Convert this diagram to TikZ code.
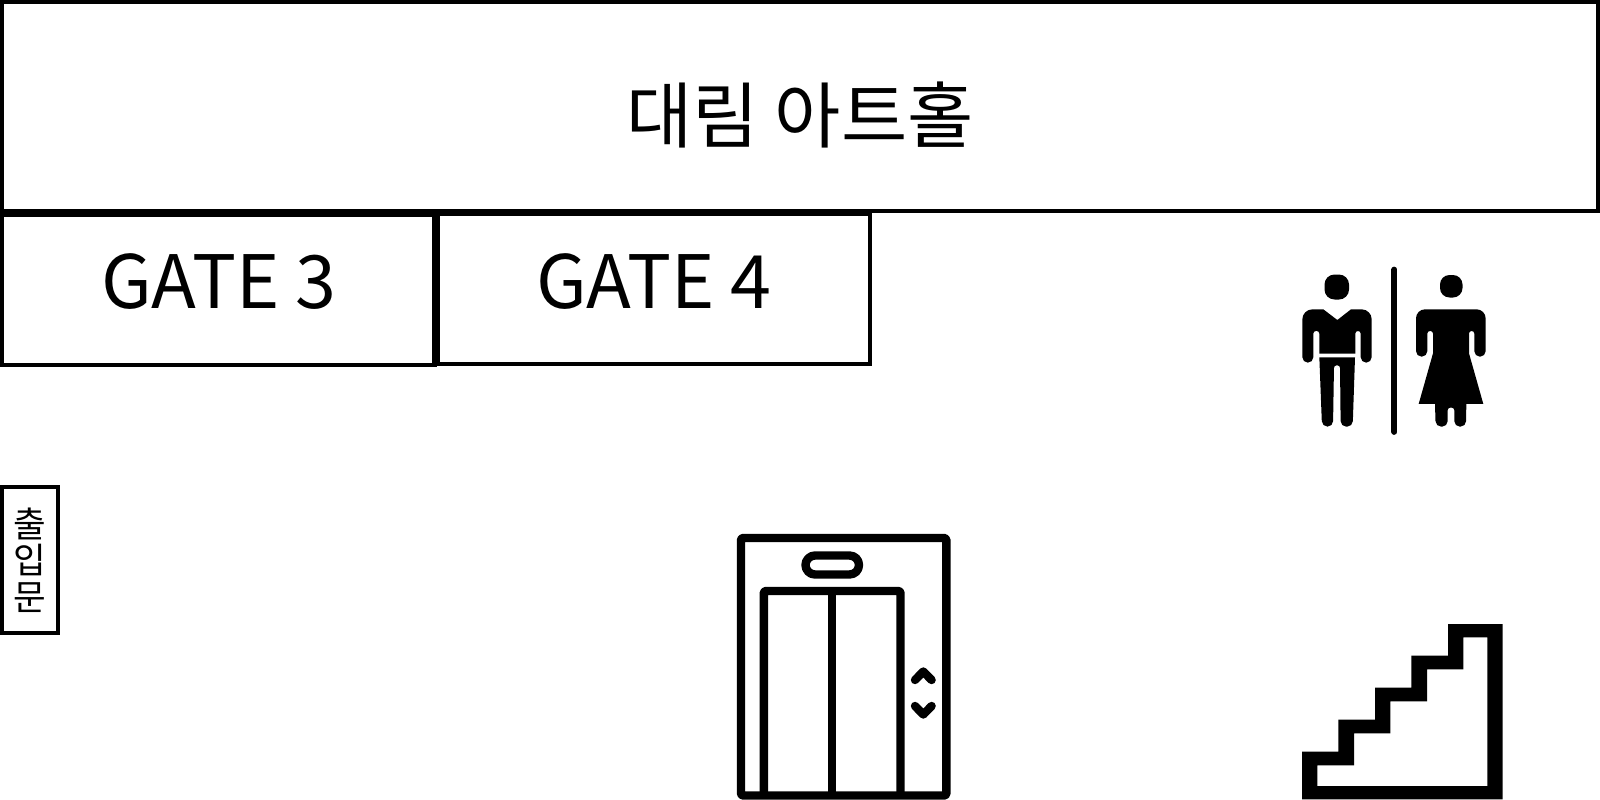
\documentclass[tikz,border=0pt]{standalone}
\usepackage{fontspec}
\setmainfont{Noto Sans CJK KR}
\tikzset{
  box/.style={draw=black,fill=white,line join=miter},
  label72/.style={inner sep=0pt,font=\fontsize{72pt}{80pt}\selectfont,text=black},
  labelgate/.style={inner sep=0pt,font=\fontsize{73.6pt}{80pt}\selectfont,text=black},
  iconline/.style={draw=black,line width=8.4pt,line join=round},
  chevron/.style={draw=black,line width=8.4pt,line cap=round,line join=round},
}
\begin{document}
\begin{tikzpicture}[x=1pt,y=-1pt]
\useasboundingbox (0,0) rectangle (1600,800);
\fill[white] (0,0) rectangle (1600,800);
% hall
\draw[box,line width=4pt] (2,2) rectangle (1598,210.7);
\node[label72] (hall) at (800,115) {대림 아트홀};
% gates
\draw[box,line width=4pt] (436,213.5) rectangle (870,364);
\draw[box,line width=4pt] (1.5,214.7) rectangle (434.5,365);
\fill (431.5,209) rectangle (439.5,365.5);
\node[labelgate] (gatethree) at (219,281.5) {GATE 3};
\node[labelgate] (gatefour) at (654,281.5) {GATE 4};
% door label
\draw[box,line width=4pt] (2,487) rectangle (58,633);
\node[inner sep=0pt,align=center,font=\fontsize{35.5pt}{36.7pt}\selectfont] (door) at (29.5,560) {출\\입\\문};
% elevator
\draw[iconline,rounded corners=1.5pt] (741,538) rectangle (946.3,795.5);
\draw[iconline,rounded corners=1.5pt] (763.8,795.5) -- (763.8,591) -- (900.5,591) -- (900.5,795.5);
\draw[iconline] (832.2,591) -- (832.2,795.5);
\draw[iconline,rounded corners=9.5pt] (805.5,555.5) rectangle (859,574.5);
\draw[chevron] (915,680) -- (923.3,671.5) -- (931.6,680);
\draw[chevron] (915,706) -- (923.3,714.5) -- (931.6,706);
% stairs
\fill[even odd rule] (1302,751.7) -- (1338.3,751.7) -- (1338.3,719.7) -- (1375,719.7) -- (1375,687.7) -- (1411.3,687.7) -- (1411.3,655.7) -- (1448,655.7) -- (1448,624) -- (1502.7,624) -- (1502.7,799.3) -- (1302,799.3) -- cycle
 (1317.3,765.3) -- (1354,765.3) -- (1354,733.3) -- (1390.3,733.3) -- (1390.3,701.3) -- (1427,701.3) -- (1427,669.3) -- (1463.3,669.3) -- (1463.3,637.3) -- (1487.3,637.3) -- (1487.3,786) -- (1317.3,786) -- cycle;
% restroom sign
\draw[line width=5.7pt,line cap=round] (1394.3,269.5) -- (1394.3,432);
\fill[rounded corners=10pt] (1324.5,274.5) rectangle (1349,299.5);
\fill[rounded corners=9.5pt] (1440,275) rectangle (1462.5,297.5);
\begin{scope}[shift={(1280,260)},x=0.3333pt,y=-0.3333pt]
 \fill (130,148) -- (172,180) -- (213,148) [rounded corners=10pt] -- (275,148) [rounded corners=5.5pt] -- (275,308) -- (242,308) [rounded corners=2.6pt] -- (242,213) -- (226,213) [sharp corners] -- (226,281) -- (118,281) [rounded corners=2.6pt] -- (118,213) -- (100,213) [rounded corners=5.5pt] -- (100,308) -- (67,308) [rounded corners=10pt] -- (67,148) [sharp corners] -- cycle;
 \fill (118,292) -- (225,292) [rounded corners=5.5pt] -- (218,500) -- (182,500) [rounded corners=2.6pt] -- (180,316) -- (162,316) [rounded corners=5.5pt] -- (159,500) -- (126,500) [sharp corners] -- cycle;
 \fill (445,148) [rounded corners=9pt] -- (617,148) [rounded corners=5.5pt] -- (617,290) -- (583,290) [rounded corners=2.6pt] -- (583,213) -- (567,213) [sharp corners] -- (567,280) -- (610,432) -- (559,432) [rounded corners=5.5pt] -- (558,500) -- (523,500) [rounded corners=2.6pt] -- (523,443) -- (503,443) [rounded corners=5.5pt] -- (503,500) -- (467,500) [sharp corners] -- (465,432) -- (416,432) -- (459,280) [rounded corners=2.6pt] -- (459,213) -- (442,213) [rounded corners=5.5pt] -- (442,290) -- (408,290) [rounded corners=9pt] -- (408,148) [sharp corners] -- cycle;
\end{scope}
\end{tikzpicture}
\end{document}
